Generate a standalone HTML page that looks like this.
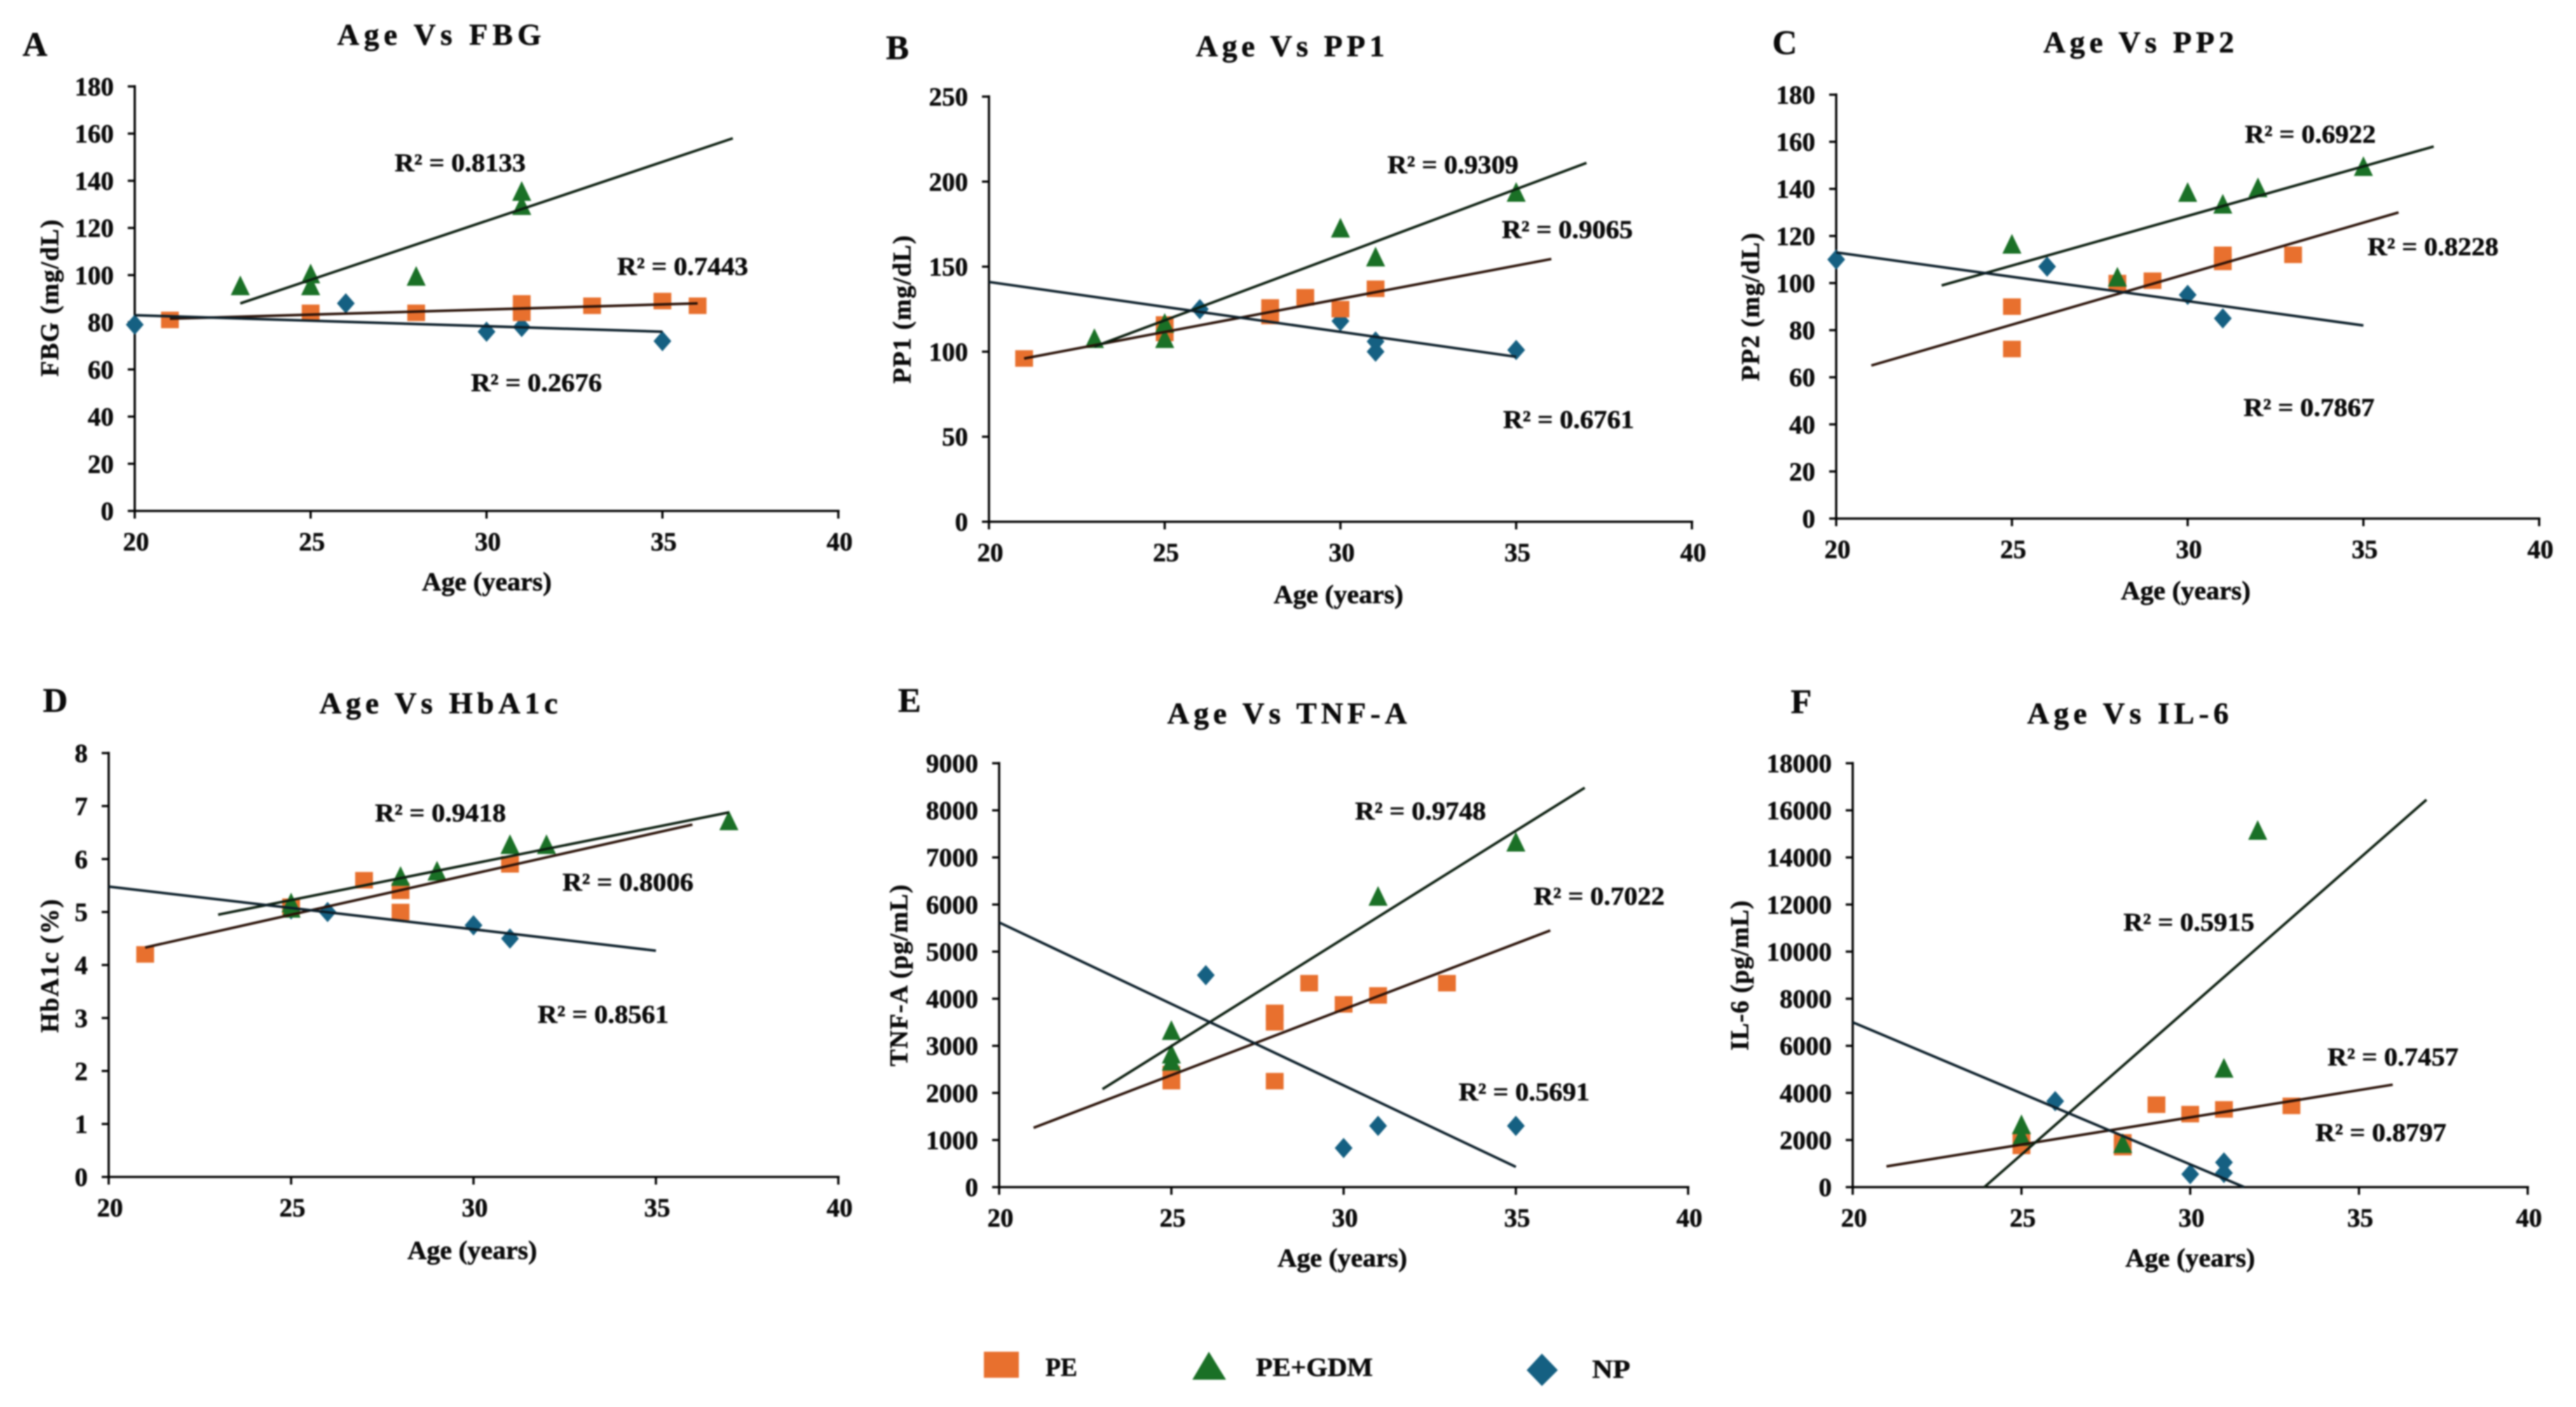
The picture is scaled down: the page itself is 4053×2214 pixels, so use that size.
<!DOCTYPE html>
<html lang="en">
<head>
<meta charset="utf-8">
<title>Age correlation scatter plots</title>
<style>
html,body{margin:0;padding:0;background:#fff;}
#figure{display:block;width:4053px;height:2214px;filter:blur(1.2px);}
text{font-family:"Liberation Serif",serif;font-weight:bold;fill:#0a0a0a;stroke:#0a0a0a;stroke-width:0.6px;}
</style>
</head>
<body>
<svg id="figure" xmlns="http://www.w3.org/2000/svg" width="4053" height="2214" viewBox="0 0 4053 2214">
  <rect x="0" y="0" width="4053" height="2214" fill="#ffffff"></rect>
  <g id="panels"></g>
  <g id="legend">
    <g>
      <rect x="1548" y="2127" width="55" height="41" fill="#E8702E"></rect>
      <text x="1645" y="2151" font-size="41" textLength="50" lengthAdjust="spacingAndGlyphs" dominant-baseline="central">PE</text>
    </g>
    <g>
      <polygon points="1902,2127 1929,2171 1876,2171" fill="#1A7026"></polygon>
      <text x="1976" y="2151" font-size="41" textLength="184" lengthAdjust="spacingAndGlyphs" dominant-baseline="central">PE+GDM</text>
    </g>
    <g>
      <polygon points="2426,2130 2451,2156 2426,2181 2402,2156" fill="#156082"></polygon>
      <text x="2505" y="2154" font-size="41" textLength="60" lengthAdjust="spacingAndGlyphs" dominant-baseline="central">NP</text>
    </g>
  </g>
</svg>
<script>
// ---------- shared axis values ----------
const ageTicks = [20, 25, 30, 35, 40];

// ---------- Panel A: FBG ----------
const yTicksA = [0, 20, 40, 60, 80, 100, 120, 140, 160, 180];
const peA = [[21, 81], [25, 84], [28, 84], [31, 88], [31, 84], [33, 87], [35, 89], [36, 87]];
const gdmA = [[23, 95], [25, 100], [25, 95], [28, 99], [31, 135], [31, 129]];
const npA = [[20, 79], [26, 88], [30, 76], [31, 78], [35, 72]];
const peFitA = [[21, 81.5], [36, 88]];
const gdmFitA = [[23, 88], [37, 158]];
const npFitA = [[20, 83], [35, 76]];
const r2A = ["0.8133", "0.7443", "0.2676"];

// ---------- Panel B: PP1 ----------
const yTicksB = [0, 50, 100, 150, 200, 250];
const peB = [[21, 96], [25, 116], [25, 111], [28, 126], [28, 121], [29, 132], [30, 125], [31, 137]];
const gdmB = [[23, 107], [25, 116], [25, 107], [30, 172], [31, 155], [35, 193]];
const npB = [[26, 125], [30, 118], [31, 106], [31, 100], [35, 101]];
const peFitB = [[21, 96], [36, 154.5]];
const gdmFitB = [[23, 103], [37, 211]];
const npFitB = [[20, 141], [35, 97]];
const r2B = ["0.9309", "0.9065", "0.6761"];

// ---------- Panel C: PP2 ----------
const yTicksC = [0, 20, 40, 60, 80, 100, 120, 140, 160, 180];
const peC = [[25, 90], [25, 72], [28, 100], [29, 101], [31, 112], [31, 109], [33, 112]];
const gdmC = [[25, 116], [28, 102], [30, 138], [31, 133], [32, 140], [35, 149]];
const npC = [[20, 110], [26, 107], [30, 95], [31, 85]];
const peFitC = [[21, 65], [36, 130]];
const gdmFitC = [[23, 99], [37, 158]];
const npFitC = [[20, 113], [35, 82]];
const r2C = ["0.6922", "0.8228", "0.7867"];

// ---------- Panel D: HbA1c ----------
const yTicksD = [0, 1, 2, 3, 4, 5, 6, 7, 8];
const peD = [[21, 4.2], [25, 5.1], [27, 5.6], [28, 5.4], [28, 5.0], [31, 5.9]];
const gdmD = [[25, 5.15], [25, 5.05], [28, 5.65], [29, 5.75], [31, 6.25], [32, 6.25], [37, 6.7]];
const npD = [[25, 5.05], [26, 5.0], [30, 4.75], [31, 4.5]];
const peFitD = [[21, 4.33], [36, 6.65]];
const gdmFitD = [[23, 4.95], [37, 6.88]];
const npFitD = [[20, 5.48], [35, 4.27]];
const r2D = ["0.9418", "0.8006", "0.8561"];

// ---------- Panel E: TNF-A ----------
const yTicksE = [0, 1000, 2000, 3000, 4000, 5000, 6000, 7000, 8000, 9000];
const peE = [[25, 2400], [25, 2250], [28, 3700], [28, 3500], [28, 2250], [29, 4330], [30, 3880], [31, 4070], [33, 4330]];
const gdmE = [[25, 3300], [25, 2800], [25, 2650], [31, 6150], [35, 7300]];
const npE = [[26, 4500], [30, 830], [31, 1300], [35, 1300]];
const peFitE = [[21, 1260], [36, 5450]];
const gdmFitE = [[23, 2080], [37, 8480]];
const npFitE = [[20, 5620], [35, 430]];
const r2E = ["0.9748", "0.7022", "0.5691"];

// ---------- Panel F: IL-6 ----------
const yTicksF = [0, 2000, 4000, 6000, 8000, 10000, 12000, 14000, 16000, 18000];
const peF = [[25, 2000], [25, 1750], [28, 1900], [28, 1700], [29, 3500], [30, 3100], [31, 3300], [33, 3450]];
const gdmF = [[25, 2600], [25, 2100], [28, 1800], [31, 5000], [32, 15100]];
const npF = [[26, 3650], [30, 550], [31, 1050], [31, 600]];
const peFitF = [[21, 880], [36, 4350]];
const gdmFitF = [[23.9, 0], [37, 16450]];
const npFitF = [[20, 7000], [31.6, 0]];
const r2F = ["0.5915", "0.7457", "0.8797"];

// ---------- layout (separate from the data above) ----------
const layouts = [
  {id:'a', letter:'A', title:'Age Vs FBG', yTitle:'FBG (mg/dL)', ticks:yTicksA, pe:peA, gdm:gdmA, np:npA, peFit:peFitA, gdmFit:gdmFitA, npFit:npFitA, r2:r2A,
   box:{l:212,r:1319,t:136,b:804}, letterAt:[55,70], titleAt:[691,55,321], xt:[766,915], yt:[78,469,247], r2At:[[724,256],[1074,419],[844,602]]},
  {id:'b', letter:'B', title:'Age Vs PP1', yTitle:'PP1 (mg/dL)', ticks:yTicksB, pe:peB, gdm:gdmB, np:npB, peFit:peFitB, gdmFit:gdmFitB, npFit:npFitB, r2:r2B,
   box:{l:1556,r:2662,t:152,b:821}, letterAt:[1412,75], titleAt:[2030,73,297], xt:[2106,935], yt:[1419,487,233], r2At:[[2286,259],[2466,361],[2468,660]]},
  {id:'c', letter:'C', title:'Age Vs PP2', yTitle:'PP2 (mg/dL)', ticks:yTicksC, pe:peC, gdm:gdmC, np:npC, peFit:peFitC, gdmFit:gdmFitC, npFit:npFitC, r2:r2C,
   box:{l:2889,r:3995,t:149,b:816}, letterAt:[2808,67], titleAt:[3365,67,300], xt:[3439,929], yt:[2754,483,233], r2At:[[3635,211],[3828,388],[3633,641]]},
  {id:'d', letter:'D', title:'Age Vs HbA1c', yTitle:'HbA1c (%)', ticks:yTicksD, pe:peD, gdm:gdmD, np:npD, peFit:peFitD, gdmFit:gdmFitD, npFit:npFitD, r2:r2D,
   box:{l:171,r:1319,t:1185,b:1852}, letterAt:[87,1102], titleAt:[690,1107,375], xt:[743,1967], yt:[78,1520,210], r2At:[[693,1279],[988,1388],[949,1596]]},
  {id:'e', letter:'E', title:'Age Vs TNF-A', yTitle:'TNF-A (pg/mL)', ticks:yTicksE, pe:peE, gdm:gdmE, np:npE, peFit:peFitE, gdmFit:gdmFitE, npFit:npFitE, r2:r2E,
   box:{l:1572,r:2656,t:1201,b:1868}, letterAt:[1431,1102], titleAt:[2025,1123,377], xt:[2112,1979], yt:[1414,1535,286], r2At:[[2235,1276],[2516,1410],[2398,1718]]},
  {id:'f', letter:'F', title:'Age Vs IL-6', yTitle:'IL-6 (pg/mL)', ticks:yTicksF, pe:peF, gdm:gdmF, np:npF, peFit:peFitF, gdmFit:gdmFitF, npFit:npFitF, r2:r2F,
   box:{l:2915,r:3977,t:1201,b:1868}, letterAt:[2834,1104], titleAt:[3348,1123,317], xt:[3446,1979], yt:[2737,1535,236], r2At:[[3444,1451],[3765,1663],[3746,1782]]}
];

const NS = 'http://www.w3.org/2000/svg';
const COLORS = {pe:'#E8702E', gdm:'#1A7026', np:'#156082', line:'#0d0d0d'};

function make(tag, parent, attrs) {
  const el = document.createElementNS(NS, tag);
  for (const k in attrs) el.setAttribute(k, attrs[k]);
  parent.appendChild(el);
  return el;
}
function label(parent, str, x, y, size, anchor, extra) {
  const el = make('text', parent, Object.assign({x:x, y:y, 'font-size':size, 'text-anchor':anchor, 'dominant-baseline':'central'}, extra || {}));
  el.textContent = str;
  return el;
}

function drawPanel(p) {
  const root = document.getElementById('panels');
  const g = make('g', root, {});
  
  

  const b = p.box;
  const yMax = p.ticks[p.ticks.length - 1];
  const xMin = ageTicks[0], xMax = ageTicks[ageTicks.length - 1];
  const sx = v => b.l + (v - xMin) / (xMax - xMin) * (b.r - b.l);
  const sy = v => b.b - v / yMax * (b.b - b.t);

  // panel letter and title
  const letter = label(g, p.letter, p.letterAt[0], p.letterAt[1], 54, 'middle');
  
  
  const title = label(g, p.title, p.titleAt[0], p.titleAt[1], 48, 'middle', {textLength:p.titleAt[2], lengthAdjust:'spacing'});
  
  

  // axes
  const yAxis = make('line', g, {x1:sx(xMin), x2:sx(xMin), y1:sy(yMax)-2, y2:sy(0)+2, stroke:'#000', 'stroke-width':3.5});
  
  
  const xAxis = make('line', g, {x1:sx(xMin)-2, x2:sx(xMax)+2, y1:sy(0), y2:sy(0), stroke:'#000', 'stroke-width':3.5});
  
  

  p.ticks.forEach(t => {
    const tick = make('line', g, {x1:sx(xMin)-11, x2:sx(xMin), y1:sy(t), y2:sy(t), stroke:'#000', 'stroke-width':3.5});
    
    
    const txt = label(g, String(t), sx(xMin)-33, sy(t), 41, 'end');
    
    
  });
  ageTicks.forEach(t => {
    const tick = make('line', g, {x1:sx(t), x2:sx(t), y1:sy(0), y2:sy(0)+12, stroke:'#000', 'stroke-width':3.5});
    
    
    const txt = label(g, String(t), sx(t)+2, sy(0)+48, 41, 'middle');
    
    
  });

  // axis titles
  const xt = label(g, 'Age (years)', p.xt[0], p.xt[1], 41, 'middle', {textLength:204, lengthAdjust:'spacingAndGlyphs'});
  
  
  const yt = label(g, p.yTitle, p.yt[0], p.yt[1], 40, 'middle', {textLength:p.yt[2], lengthAdjust:'spacing', transform:'rotate(-90 ' + p.yt[0] + ' ' + p.yt[1] + ')'});
  
  

  // markers
  p.np.forEach(d => {
    const x = sx(d[0]), y = sy(d[1]);
    const m = make('polygon', g, {points:[x,y-16,x+14,y,x,y+16,x-14,y].join(' '), fill:COLORS.np});
    
    
  });
  p.pe.forEach(d => {
    const x = sx(d[0]), y = sy(d[1]);
    const m = make('rect', g, {x:x-14, y:y-13, width:28, height:26, fill:COLORS.pe});
    
    
  });
  p.gdm.forEach(d => {
    const x = sx(d[0]), y = sy(d[1]);
    const m = make('polygon', g, {points:[x,y-18,x+15,y+13,x-15,y+13].join(' '), fill:COLORS.gdm});
    
    
  });

  // trendlines
  [['pe', p.peFit, '#2a1208'], ['pe-gdm', p.gdmFit, '#0c1f10'], ['np', p.npFit, '#0c1f2a']].forEach(f => {
    const pts = f[1];
    const line = make('line', g, {x1:sx(pts[0][0]), y1:sy(pts[0][1]), x2:sx(pts[1][0]), y2:sy(pts[1][1]), stroke:f[2], 'stroke-width':4});
    
    
  });

  // R-squared labels
  p.r2.forEach((val, i) => {
    const t = label(g, 'R\u00B2 = ' + val, p.r2At[i][0], p.r2At[i][1], 40, 'middle', {textLength:206, lengthAdjust:'spacingAndGlyphs'});
    
    
  });
}

layouts.forEach(drawPanel);
</script>
</body>
</html>
